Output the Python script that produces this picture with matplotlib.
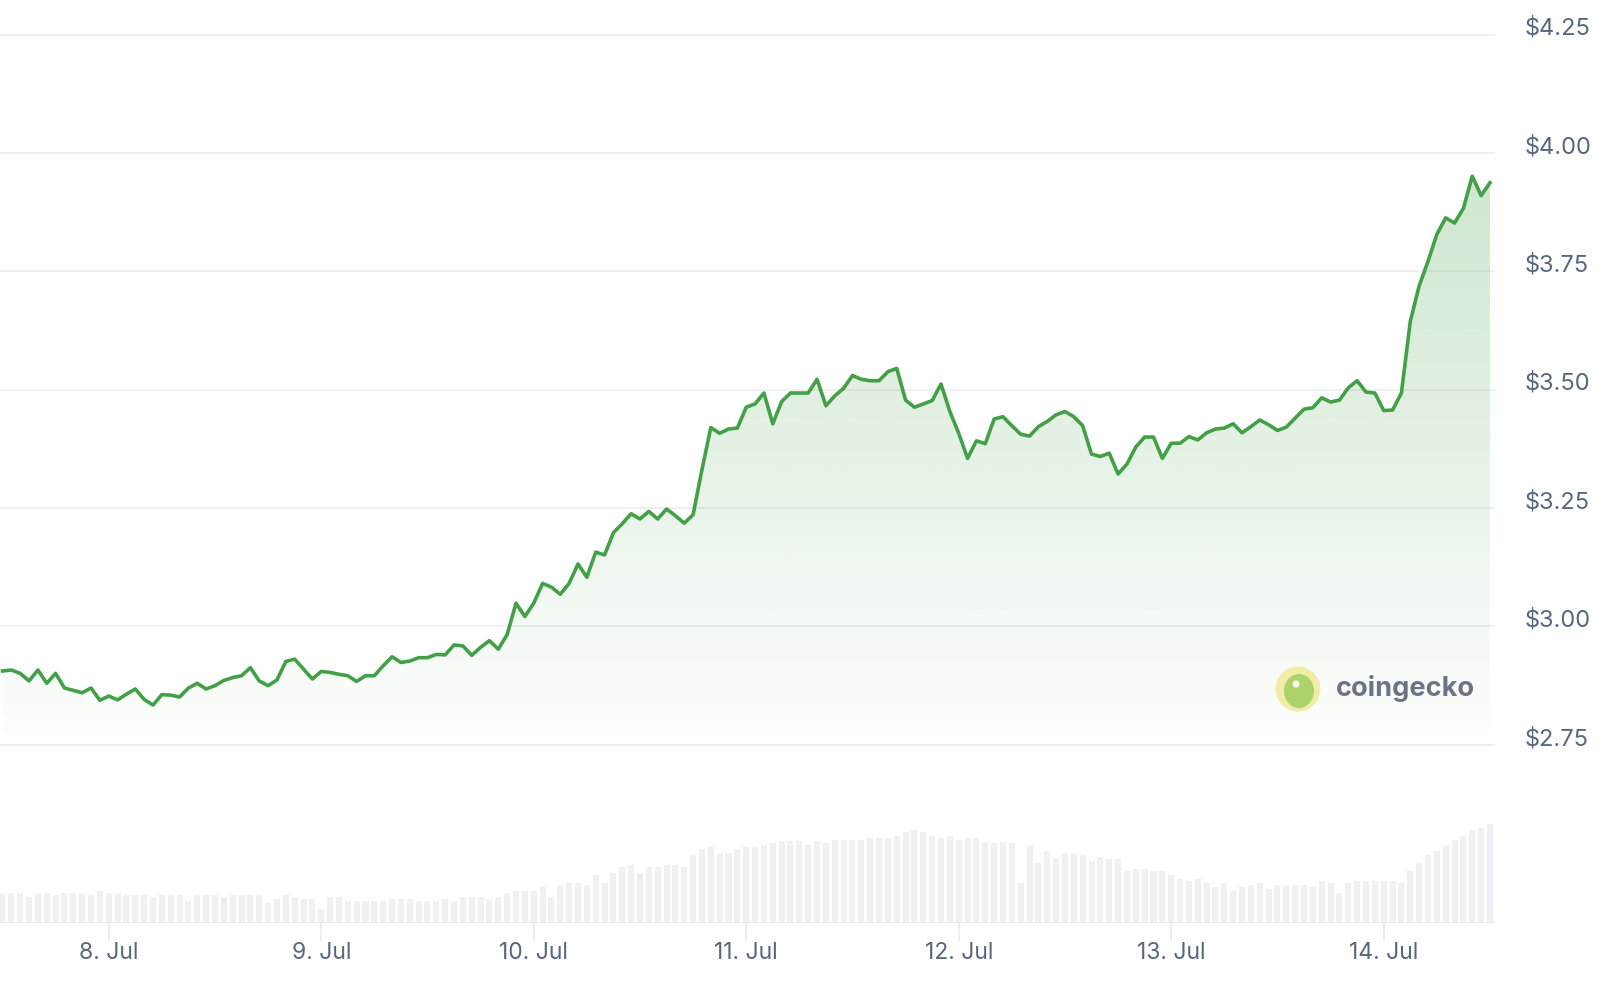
import numpy as np
import pandas as pd
import matplotlib
matplotlib.use("Agg")
import matplotlib.pyplot as plt
import matplotlib.dates as mdates
from matplotlib.ticker import FuncFormatter
from matplotlib.transforms import ScaledTranslation
from matplotlib.patches import Circle, Ellipse

plt.rcParams['font.family'] = ['Inter', 'DejaVu Sans']

# hourly price, 7 Jul 12:00 -> 14 Jul 12:00
price = [
    2.906, 2.908, 2.901, 2.885, 2.908, 2.880, 2.901, 2.870, 2.865, 2.860,
    2.870, 2.844, 2.853, 2.845, 2.857, 2.868, 2.846, 2.834, 2.856, 2.855,
    2.851, 2.870, 2.880, 2.868, 2.875, 2.886, 2.892, 2.896, 2.913, 2.885,
    2.875, 2.887, 2.926, 2.931, 2.910, 2.889, 2.905, 2.903, 2.899, 2.896,
    2.884, 2.896, 2.896, 2.917, 2.936, 2.924, 2.927, 2.934, 2.934, 2.941,
    2.940, 2.961, 2.959, 2.939, 2.956, 2.970, 2.952, 2.983, 3.049, 3.021,
    3.049, 3.091, 3.083, 3.068, 3.091, 3.132, 3.104, 3.157, 3.151, 3.198,
    3.217, 3.238, 3.227, 3.243, 3.227, 3.248, 3.234, 3.218, 3.236, 3.331,
    3.420, 3.408, 3.417, 3.419, 3.463, 3.470, 3.493, 3.428, 3.475, 3.493,
    3.493, 3.493, 3.522, 3.466, 3.487, 3.503, 3.530, 3.522, 3.519, 3.519,
    3.538, 3.545, 3.478, 3.463, 3.470, 3.477, 3.512, 3.454, 3.408, 3.355,
    3.392, 3.386, 3.438, 3.443, 3.424, 3.406, 3.402, 3.422, 3.433, 3.447,
    3.454, 3.443, 3.424, 3.364, 3.359, 3.366, 3.322, 3.343, 3.379, 3.400,
    3.400, 3.355, 3.387, 3.387, 3.401, 3.394, 3.409, 3.417, 3.419, 3.428,
    3.409, 3.422, 3.436, 3.426, 3.414, 3.421, 3.440, 3.459, 3.462, 3.483,
    3.474, 3.478, 3.504, 3.519, 3.495, 3.493, 3.456, 3.457, 3.493, 3.644,
    3.719, 3.771, 3.828, 3.863, 3.852, 3.883, 3.951, 3.910, 3.937,
]

# hourly volume (relative units)
volume = [
    30, 30, 30, 26, 30, 30, 28, 30, 30, 30,
    28, 32, 30, 30, 28, 28, 28, 26, 28, 28,
    28, 22, 28, 28, 28, 26, 28, 28, 28, 28,
    20, 24, 28, 26, 24, 24, 14, 26, 26, 22,
    22, 22, 22, 22, 24, 24, 24, 22, 22, 22,
    24, 22, 26, 26, 26, 24, 26, 30, 32, 32,
    32, 36, 26, 38, 40, 40, 38, 48, 40, 50,
    56, 58, 50, 56, 56, 58, 58, 56, 68, 74,
    76, 70, 70, 74, 76, 76, 78, 80, 82, 82,
    82, 78, 82, 80, 83, 83, 83, 83, 85, 85,
    85, 87, 91, 93, 91, 87, 85, 87, 83, 85,
    85, 81, 80, 81, 80, 40, 78, 60, 72, 64,
    70, 70, 68, 62, 66, 64, 64, 52, 54, 54,
    52, 52, 48, 44, 42, 44, 40, 36, 40, 32,
    36, 38, 40, 34, 38, 38, 38, 38, 36, 42,
    40, 30, 40, 42, 42, 42, 42, 42, 40, 52,
    60, 68, 72, 78, 83, 87, 93, 95, 99,
]

times = pd.date_range("2025-07-07 12:00", periods=len(price), freq="h")
day_ticks = pd.date_range("2025-07-08", "2025-07-14", freq="D")
price_ticks = [2.75, 3.00, 3.25, 3.50, 3.75, 4.00, 4.25]

line_c = '#43a047'
text_c = '#58667e'
grid_c = '#eceef2'

W, H = 1600, 990
fig = plt.figure(figsize=(W/100, H/100), dpi=100)
ax = fig.add_axes([0, 1 - 760/H, 1495/W, 760/H])
axv = fig.add_axes([0, (H - 923)/H, 1495/W, 130/H])

x0 = times[0] - pd.Timedelta(hours=0.28)
x1 = times[0] + pd.Timedelta(hours=168.57)
ylo, yhi = 2.718, 4.323

# price line + gradient fill
ax.plot(times, price, color=line_c, lw=2.6, solid_joinstyle='round', zorder=3)
poly = ax.fill_between(times, price, ylo, color='none', lw=0)
g = np.linspace(0, 1, 256)
grad = np.zeros((256, 1, 4))
grad[..., 0], grad[..., 1], grad[..., 2] = 67/255, 160/255, 71/255
grad[:, 0, 3] = 0.34 * g
img = ax.imshow(grad, extent=[mdates.date2num(x0), mdates.date2num(x1), ylo, yhi],
                aspect='auto', origin='lower', zorder=1)
img.set_clip_path(poly.get_paths()[0], ax.transData)

ax.set_xlim(x0, x1)
ax.set_ylim(ylo, yhi)
ax.set_yticks(price_ticks)
ax.yaxis.tick_right()
ax.yaxis.set_major_formatter(FuncFormatter(lambda v, p: f"${v:.2f}"))
ax.tick_params(axis='y', length=0, pad=21, labelsize=17, labelcolor=text_c)
ax.tick_params(axis='x', length=0, labelbottom=False)
ax.grid(axis='y', color=grid_c, lw=1.2)
ax.set_axisbelow(True)
for s in ax.spines.values():
    s.set_visible(False)
up = ScaledTranslation(0, 0.085, fig.dpi_scale_trans)
for lab in ax.get_yticklabels():
    lab.set_transform(lab.get_transform() + up)

# volume bars
axv.bar(times, volume, width=0.68/24, color='#eff1f5', lw=0)
axv.axhline(0, color='#e8eaef', lw=1.5)
axv.set_xlim(x0, x1)
axv.set_ylim(0, 130)
axv.set_yticks([])
axv.set_xticks(day_ticks)
axv.xaxis.set_major_formatter(FuncFormatter(
    lambda v, p: f"{mdates.num2date(v).day}. {mdates.num2date(v):%b}"))
axv.tick_params(axis='x', length=13, width=1.2, color='#e8eaef', pad=1,
                labelsize=16.5, labelcolor=text_c)
axv.patch.set_alpha(0)
for s in axv.spines.values():
    s.set_visible(False)

# watermark
tr = fig.dpi_scale_trans
cx, cy = 12.98, (H - 689)/100
fig.add_artist(Circle((cx, cy), 0.225, transform=tr, fc='#f2ea9a', ec='none', alpha=0.85))
fig.add_artist(Ellipse((cx + 0.01, cy - 0.02), 0.3, 0.34, transform=tr, fc='#9dcf62', ec='none', alpha=0.85))
fig.add_artist(Circle((cx - 0.02, cy + 0.05), 0.035, transform=tr, fc='white', ec='none'))
fig.text(1336/W, 1 - 688/H, 'coingecko', fontsize=19.5, fontweight='bold',
         color='#6b7385', ha='left', va='center')

fig.savefig('out.png', dpi=100)
